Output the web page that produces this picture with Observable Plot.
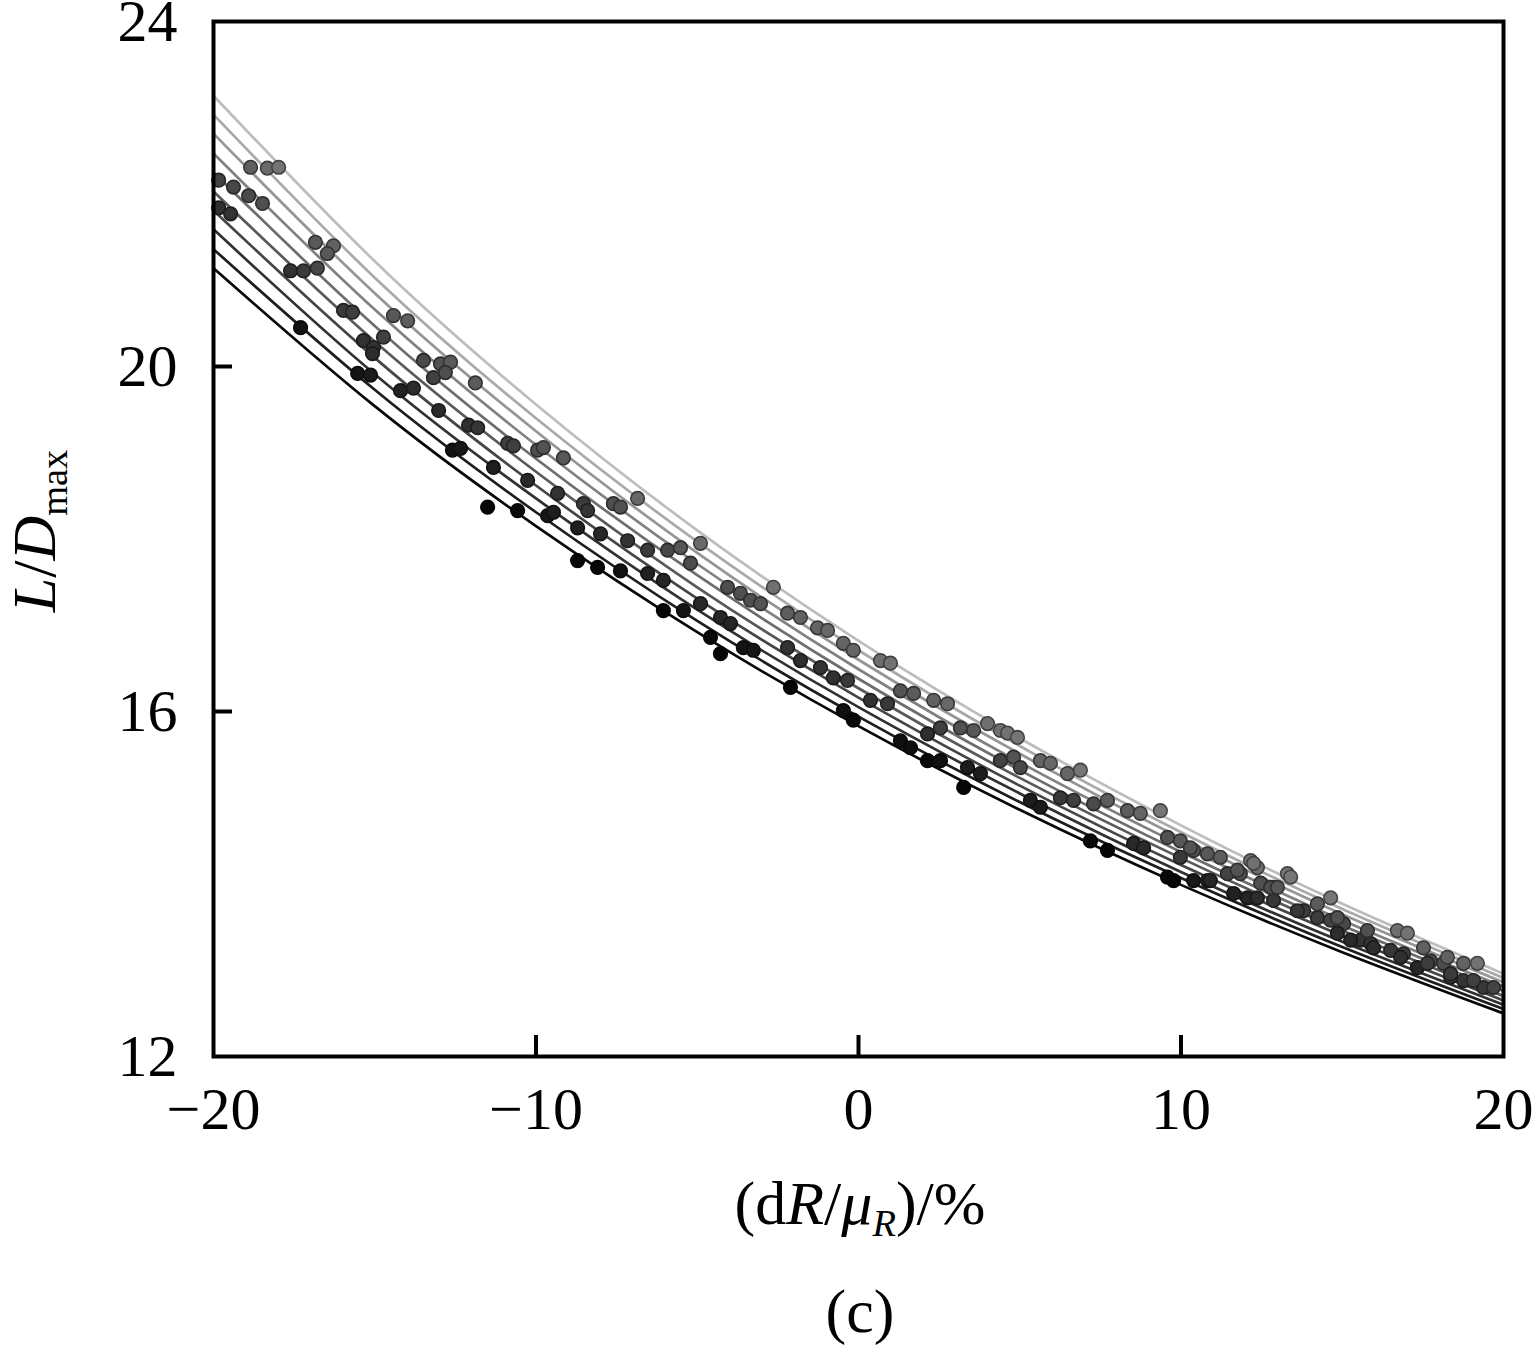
<!DOCTYPE html>
<html><head><meta charset="utf-8">
<script src="https://cdn.jsdelivr.net/npm/d3@7"></script>
<script src="https://cdn.jsdelivr.net/npm/@observablehq/plot@0.6"></script>
<style>
body{margin:0;background:#fff;}
#wrap{position:relative;width:1533px;height:1345px;font-family:"Liberation Serif","Times New Roman",serif;color:#000;}
#wrap svg{position:absolute;left:0;top:0;overflow:visible;}
.lbl{position:absolute;font-size:62px;line-height:1;white-space:nowrap;}
.lbl sub{font-size:0.62em;vertical-align:-0.3em;}
</style></head><body><div id="wrap"></div>
<script>
// ---- data ----
const xTicks = [-20, -10, 0, 10, 20];
const yTicks = [12, 16, 20, 24];
const innerXTicks = [-10, 0, 10];
const innerYTicks = [16, 20];

const xAnchors = [-20, -15, -10, -5, 0, 5, 10, 15, 20];
const curve0 = [23.14, 21.22, 19.56, 18.10, 16.82, 15.69, 14.68, 13.77, 12.96];
const curve1 = [22.92, 21.03, 19.40, 17.97, 16.71, 15.60, 14.60, 13.71, 12.91];
const curve2 = [22.70, 20.85, 19.25, 17.84, 16.60, 15.51, 14.53, 13.65, 12.86];
const curve3 = [22.47, 20.66, 19.09, 17.71, 16.49, 15.41, 14.45, 13.58, 12.81];
const curve4 = [22.25, 20.47, 18.93, 17.58, 16.38, 15.32, 14.37, 13.52, 12.76];
const curve5 = [22.03, 20.29, 18.78, 17.44, 16.27, 15.23, 14.30, 13.46, 12.70];
const curve6 = [21.81, 20.10, 18.62, 17.31, 16.16, 15.14, 14.22, 13.40, 12.65];
const curve7 = [21.59, 19.91, 18.47, 17.18, 16.05, 15.05, 14.14, 13.33, 12.60];
const curve8 = [21.36, 19.73, 18.31, 17.05, 15.94, 14.95, 14.07, 13.27, 12.55];
const curve9 = [21.14, 19.54, 18.15, 16.92, 15.83, 14.86, 13.99, 13.21, 12.50];
const curveColors = ["#bdbdbd", "#a9a9a9", "#959595", "#818181", "#6d6d6d", "#595959", "#454545", "#313131", "#1d1d1d", "#080808"];

const dotX = [-19.84,-19.38,-18.91,-18.48,-19.84,-19.47,-18.85,-18.33,-17.98,-16.84,-16.28,-16.47,-17.61,-17.21,-16.78,-17.30,-15.97,-15.69,-14.42,-13.98,
-15.35,-15.04,-14.73,-15.07,-15.53,-15.13,-14.20,-13.80,-13.49,-12.96,-12.65,-13.18,-12.81,-11.88,-13.02,-12.09,-11.81,-12.59,-12.34,-10.88,
-10.70,-9.95,-9.77,-9.15,-11.32,-10.26,-9.33,-11.50,-10.57,-9.64,-9.46,-8.53,-8.40,-7.60,-7.38,-6.85,-8.71,-8.00,-7.16,-6.54,
-5.92,-5.52,-4.90,-8.71,-8.09,-7.38,-6.54,-6.05,-5.21,-6.05,-5.43,-4.90,-4.06,-3.66,-2.64,-3.35,-3.04,-4.28,-3.97,-2.20,
-1.80,-1.27,-0.96,-4.59,-4.28,-3.57,-3.26,-2.20,-1.80,-1.18,-0.47,-0.16,0.68,0.99,-2.11,-0.78,-0.34,-0.47,-0.16,0.37,
0.90,1.30,1.71,2.33,2.76,1.30,1.61,2.14,2.54,3.16,3.57,4.00,4.40,2.14,2.54,3.38,3.78,4.40,4.81,3.26,
4.62,4.93,5.02,5.64,5.95,6.48,6.88,5.33,5.64,6.26,6.67,7.29,7.72,8.34,8.74,9.36,7.19,7.72,8.53,8.84,
9.58,9.98,10.39,10.82,9.58,9.77,10.39,10.82,11.44,11.84,12.47,12.87,13.30,11.63,12.06,12.87,12.16,12.37,13.40,12.78,
13.80,14.23,14.64,15.04,16.71,17.02,15.57,15.88,14.85,16.50,16.90,17.74,18.14,18.76,19.19,18.36,18.76,19.38,17.33,
9.98,10.91,11.75,12.37,12.99,13.61,14.23,14.85,10.29,11.22,12.25,14.64,15.26,15.97,16.81,17.64,18.36,19.07,19.69,15.78,
17.52,18.26];
const dotY = [22.16,22.08,21.98,21.89,21.84,21.77,22.31,22.30,22.31,21.44,21.40,21.31,21.11,21.11,21.14,20.45,20.65,20.63,20.59,20.53,
20.30,20.22,20.34,20.15,19.92,19.90,19.72,19.75,20.07,20.03,20.05,19.87,19.93,19.81,19.49,19.32,19.29,19.03,19.05,19.11,
19.08,19.03,19.06,18.94,18.83,18.68,18.53,18.37,18.33,18.27,18.31,18.41,18.33,18.41,18.37,18.47,18.13,18.06,17.98,17.87,
17.87,17.90,17.95,17.75,17.67,17.63,17.60,17.52,17.72,17.17,17.17,17.25,17.44,17.37,17.44,17.29,17.25,17.09,17.02,17.14,
17.09,16.97,16.94,16.86,16.67,16.74,16.71,16.74,16.59,16.51,16.79,16.71,16.59,16.56,16.28,16.39,16.36,16.01,15.90,16.13,
16.09,16.24,16.21,16.13,16.09,15.66,15.58,15.74,15.81,15.81,15.78,15.86,15.78,15.43,15.43,15.35,15.28,15.43,15.47,15.12,
15.75,15.70,15.35,15.43,15.40,15.28,15.32,14.97,14.89,15.00,14.97,14.93,14.97,14.85,14.82,14.85,14.50,14.39,14.47,14.42,
14.54,14.50,14.39,14.35,14.08,14.04,14.04,14.04,14.12,14.12,14.01,13.96,14.12,13.89,13.84,13.81,14.27,14.19,14.08,13.96,
13.69,13.61,13.58,13.54,13.46,13.43,13.35,13.31,13.43,13.23,13.19,13.11,13.08,13.08,13.08,12.92,12.88,12.80,13.03,
14.31,14.04,14.16,13.84,13.96,13.69,13.77,13.61,14.42,14.31,14.24,13.84,13.35,13.26,13.15,13.08,12.96,12.88,12.80,13.46,
13.26,13.15];

// ---- build tables ----
const curves = [curve0, curve1, curve2, curve3, curve4, curve5, curve6, curve7, curve8, curve9];
const lineRows = [];
curves.forEach((c, i) => xAnchors.forEach((x, j) => lineRows.push({x, y: c[j], k: i, col: curveColors[i]})));

// colour of a dot depends on where it sits within the band (styling only)
function bandAt(arr, x) {
  for (let j = 0; j < xAnchors.length - 1; j++) {
    if (x <= xAnchors[j + 1]) {
      const f = (x - xAnchors[j]) / (xAnchors[j + 1] - xAnchors[j]);
      return arr[j] + f * (arr[j + 1] - arr[j]);
    }
  }
  return arr[arr.length - 1];
}
const dots = dotX.map((x, i) => {
  const top = bandAt(curve0, x), bot = bandAt(curve9, x);
  const t = Math.max(0, Math.min(1, (top - dotY[i]) / (top - bot)));
  const g = 190 - 180 * t;
  return {
    x, y: dotY[i],
    fill: d3.rgb(g * 0.62, g * 0.62, g * 0.62).formatHex(),
    stroke: d3.rgb(g * 0.35, g * 0.35, g * 0.35).formatHex()
  };
});

const W = 1533, H = 1345;
const mL = 213, mR = 30, mT = 21, mB = 289;
const plotW = W - mL - mR, plotH = H - mT - mB;
const fmt = d => d < 0 ? "\u2212" + Math.abs(d) : String(d);

const chart = Plot.plot({
  width: W, height: H,
  marginLeft: mL, marginRight: mR, marginTop: mT, marginBottom: mB,
  style: {fontFamily: '"Liberation Serif","Times New Roman",serif', background: "#fff", color: "#000", overflow: "visible"},
  x: {domain: [-20, 20]},
  y: {domain: [12, 24]},
  color: {type: "identity"},
  marks: [
    Plot.line(lineRows, {x: "x", y: "y", z: "k", stroke: "col", strokeWidth: 2.7, curve: "natural"}),
    Plot.dot(dots, {x: "x", y: "y", r: 6.8, fill: "fill", stroke: "stroke", strokeWidth: 1.6}),
    Plot.tickX(innerXTicks, {x: d => d, insetTop: plotH - 21, stroke: "#000", strokeWidth: 4}),
    Plot.tickY(innerYTicks, {y: d => d, insetRight: plotW - 19, stroke: "#000", strokeWidth: 4}),
    Plot.frame({stroke: "#000", strokeWidth: 4}),
    Plot.axisX(xTicks, {label: null, tickSize: 0, tickPadding: 30, fontSize: 60, tickFormat: fmt}),
    Plot.axisY(yTicks, {label: null, tickSize: 0, tickPadding: 36, fontSize: 60, tickFormat: fmt})
  ]
});
const wrap = document.getElementById("wrap");
wrap.appendChild(chart);

function addLabel(html, css) {
  const d = document.createElement("div");
  d.className = "lbl";
  d.innerHTML = html;
  Object.assign(d.style, css);
  wrap.appendChild(d);
  return d;
}
addLabel('(d<i>R</i>/<i>μ</i><sub><i>R</i></sub>)/%', {left: "560px", width: "600px", textAlign: "center", top: "1172px"});
addLabel('(c)', {left: "560px", width: "600px", textAlign: "center", top: "1280px"});
addLabel('<i>L</i>/<i>D</i><sub>max</sub>', {left: "-66px", width: "200px", textAlign: "center", top: "500px", transform: "rotate(-90deg)", transformOrigin: "100px 31px"});
</script>
</body></html>
